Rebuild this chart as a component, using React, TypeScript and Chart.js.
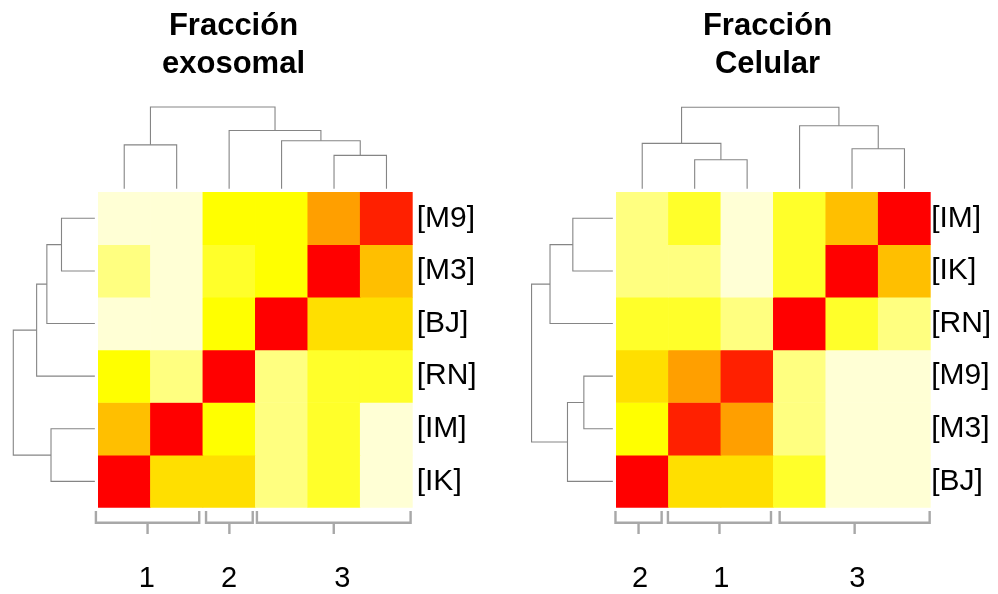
import React, { useEffect, useRef } from 'react';
import { Chart, registerables } from 'chart.js';

Chart.register(...registerables);

const FONT = '"Liberation Sans", Arial, Helvetica, sans-serif';

// heat.colors(12), lightest first
const heatColors = [
  '#FFFFD5', '#FFFF80', '#FFFF2A', '#FFFF00', '#FFDF00', '#FFBF00',
  '#FF9F00', '#FF8000', '#FF6000', '#FF4000', '#FF2000', '#FF0000',
];

type Child = string | number; // sample name, or index of an earlier merge
type Merge = [Child, Child, number];

// ---- Fracción exosomal ----
const exoTitle = ['Fracción', 'exosomal'];
const exoRows = ['M9', 'M3', 'BJ', 'RN', 'IM', 'IK'];
const exoCols = ['IK', 'IM', 'RN', 'BJ', 'M3', 'M9'];
const exoValues = [
  [0.05, 0.03, 0.30, 0.31, 0.55, 0.89],
  [0.13, 0.04, 0.21, 0.28, 1.00, 0.46],
  [0.02, 0.05, 0.27, 1.00, 0.38, 0.39],
  [0.29, 0.14, 1.00, 0.12, 0.19, 0.22],
  [0.47, 1.00, 0.30, 0.11, 0.20, 0.06],
  [1.00, 0.40, 0.39, 0.13, 0.21, 0.04],
];
const exoMerges: Merge[] = [
  ['M9', 'M3', 0.696],
  ['IM', 'IK', 0.896],
  ['BJ', 0, 0.975],
  ['RN', 2, 1.17],
  [3, 1, 1.615],
];
const exoClusters = ['1', '2', '3'];
const exoClusterFrom = [-0.04, 2.06, 3.03];
const exoClusterTo = [1.93, 2.95, 5.96];
const exoClusterLabelAt = [0.93, 2.5, 4.66];

// ---- Fracción Celular ----
const celTitle = ['Fracción', 'Celular'];
const celRows = ['IM', 'IK', 'RN', 'M9', 'M3', 'BJ'];
const celCols = ['BJ', 'M3', 'M9', 'RN', 'IK', 'IM'];
const celValues = [
  [0.12, 0.20, 0.05, 0.22, 0.47, 1.00],
  [0.13, 0.11, 0.04, 0.19, 1.00, 0.45],
  [0.21, 0.23, 0.14, 1.00, 0.20, 0.12],
  [0.39, 0.55, 0.90, 0.13, 0.03, 0.02],
  [0.30, 0.88, 0.53, 0.12, 0.05, 0.04],
  [1.00, 0.38, 0.40, 0.21, 0.04, 0.03],
];
const celMerges: Merge[] = [
  ['M9', 'M3', 0.613],
  ['IM', 'IK', 0.823],
  ['BJ', 0, 0.925],
  ['RN', 1, 1.258],
  [3, 2, 1.61],
];
const celClusters = ['2', '1', '3'];
const celClusterFrom = [-0.01, 0.99, 3.12];
const celClusterTo = [0.87, 2.955, 5.98];
const celClusterLabelAt = [0.46, 2.01, 4.6];

interface Panel {
  title: string[];
  rows: string[];
  cols: string[];
  values: number[][];
  merges: Merge[];
  clusters: string[];
  clusterFrom: number[];
  clusterTo: number[];
  clusterLabelAt: number[];
}

interface PanelBox {
  left: number;       // page x of the canvas
  width: number;      // canvas width (title is centred on it)
  gutter: number;     // space left of the heatmap, holds the row dendrogram
  labelWidth: number; // space right of the heatmap, holds the row labels
  labelPad: number;
}

const exoPanel: Panel = {
  title: exoTitle, rows: exoRows, cols: exoCols, values: exoValues, merges: exoMerges,
  clusters: exoClusters, clusterFrom: exoClusterFrom, clusterTo: exoClusterTo, clusterLabelAt: exoClusterLabelAt,
};
const celPanel: Panel = {
  title: celTitle, rows: celRows, cols: celCols, values: celValues, merges: celMerges,
  clusters: celClusters, clusterFrom: celClusterFrom, clusterTo: celClusterTo, clusterLabelAt: celClusterLabelAt,
};

const HEIGHT = 594;
const LEAF_GAP = 0.06;
const BRACKET_TOP = 6.063;
const BRACKET_BAR = 6.286;
const BRACKET_TICK = 6.5;
const TREE_COLOR = '#858585';
const BRACKET_COLOR = '#A8A8A8';

const cellColor = (v: number) =>
  heatColors[Math.min(heatColors.length - 1, Math.floor(v * heatColors.length))];

// Polylines [position, height] for every merge; drawn from the right-hand child to the left one.
function dendrogram(merges: Merge[], order: string[]): [number, number][][] {
  const nodes: { pos: number; h: number }[] = [];
  const node = (c: Child) =>
    typeof c === 'number' ? nodes[c] : { pos: order.indexOf(c) + 0.5, h: LEAF_GAP };
  const lines: [number, number][][] = [];
  merges.forEach(([a, b, h]) => {
    const na = node(a);
    const nb = node(b);
    const [lo, hi] = na.pos < nb.pos ? [na, nb] : [nb, na];
    lines.push([[hi.pos, hi.h], [hi.pos, h], [lo.pos, h], [lo.pos, lo.h]]);
    nodes.push({ pos: (na.pos + nb.pos) / 2, h });
  });
  return lines;
}

const lineDataset = (data: { x: number; y: number }[], color: string, width: number) => ({
  type: 'line' as const,
  xAxisID: 'x',
  yAxisID: 'y',
  data,
  borderColor: color,
  borderWidth: width,
  pointRadius: 0,
  fill: false,
  tension: 0,
  clip: false as const,
  borderJoinStyle: 'miter' as const,
});

function makeConfig(p: Panel, box: PanelBox): any {
  const cells = p.rows.map((_, i) => ({
    type: 'bar' as const,
    xAxisID: 'x',
    yAxisID: 'y',
    data: p.cols.map((_, j) => ({ x: j + 0.5, y: [i, i + 1] })),
    backgroundColor: p.values[i].map(cellColor),
    borderWidth: 0,
    grouped: false,
    barPercentage: 1,
    categoryPercentage: 1,
  }));

  const colTree = dendrogram(p.merges, p.cols).map((pts) =>
    lineDataset(pts.map(([pos, h]) => ({ x: pos, y: -h })), TREE_COLOR, 1.1));
  const rowTree = dendrogram(p.merges, p.rows).map((pts) =>
    lineDataset(pts.map(([pos, h]) => ({ x: -h, y: pos })), TREE_COLOR, 1.1));

  const brackets = p.clusters.flatMap((_, k) => {
    const from = p.clusterFrom[k];
    const to = p.clusterTo[k];
    const mid = (from + to) / 2;
    return [
      lineDataset([
        { x: to, y: BRACKET_TOP }, { x: to, y: BRACKET_BAR },
        { x: from, y: BRACKET_BAR }, { x: from, y: BRACKET_TOP },
      ], BRACKET_COLOR, 2.4),
      lineDataset([{ x: mid, y: BRACKET_BAR }, { x: mid, y: BRACKET_TICK }], BRACKET_COLOR, 2.4),
    ];
  });

  const hidden = { display: false, drawTicks: false };

  return {
    type: 'bar',
    data: { datasets: [...cells, ...colTree, ...rowTree, ...brackets] },
    options: {
      responsive: false,
      animation: false,
      events: [],
      layout: { padding: 0 },
      plugins: {
        legend: { display: false },
        tooltip: { enabled: false },
        title: {
          display: true,
          text: p.title,
          color: '#000',
          font: { family: FONT, size: 31, weight: 'bold', lineHeight: '37.5px' },
          padding: { top: 8, bottom: 109 },
        },
      },
      scales: {
        x: {
          type: 'linear', position: 'bottom', min: 0, max: 6, offset: false,
          grid: hidden, border: { display: false },
          afterBuildTicks: (s: any) => { s.ticks = p.clusterLabelAt.map((v) => ({ value: v })); },
          ticks: {
            autoSkip: false, maxRotation: 0, minRotation: 0, padding: 54, color: '#000',
            font: { family: FONT, size: 29 },
            callback: (_v: number, i: number) => p.clusters[i],
          },
          afterFit: (s: any) => { s.height = 86.3; },
        },
        y: {
          type: 'linear', position: 'right', reverse: true, min: 0, max: 6,
          grid: hidden, border: { display: false },
          afterBuildTicks: (s: any) => { s.ticks = p.rows.map((_, i) => ({ value: i + 0.5 })); },
          ticks: {
            autoSkip: false, padding: box.labelPad, color: '#000',
            font: { family: FONT, size: 30 },
            callback: (_v: number, i: number) => `[${p.rows[i]}]`,
          },
          afterFit: (s: any) => { s.width = box.labelWidth; },
        },
        // empty axis that reserves room for the row dendrogram
        gutter: {
          type: 'linear', position: 'left', min: 0, max: 1,
          grid: hidden, border: { display: false }, ticks: { display: false },
          afterFit: (s: any) => { s.width = box.gutter; },
        },
      },
    },
  };
}

function HeatmapPanel({ panel, box }: { panel: Panel; box: PanelBox }) {
  const ref = useRef<HTMLCanvasElement>(null);
  useEffect(() => {
    const chart = new Chart(ref.current as HTMLCanvasElement, makeConfig(panel, box));
    return () => chart.destroy();
  }, [panel, box]);
  return (
    <canvas
      ref={ref}
      width={box.width}
      height={HEIGHT}
      style={{ position: 'absolute', left: box.left, top: 0, width: box.width, height: HEIGHT }}
    />
  );
}

const exoBox: PanelBox = { left: -20, width: 507, gutter: 118, labelWidth: 74.3, labelPad: 4 };
const celBox: PanelBox = { left: 526, width: 483, gutter: 90, labelWidth: 78.3, labelPad: 0.5 };

export default function App() {
  return (
    <div style={{
      position: 'absolute', left: 0, top: 0, width: 998, height: HEIGHT,
      overflow: 'hidden', background: '#fff',
    }}>
      <HeatmapPanel panel={exoPanel} box={exoBox} />
      <HeatmapPanel panel={celPanel} box={celBox} />
    </div>
  );
}
